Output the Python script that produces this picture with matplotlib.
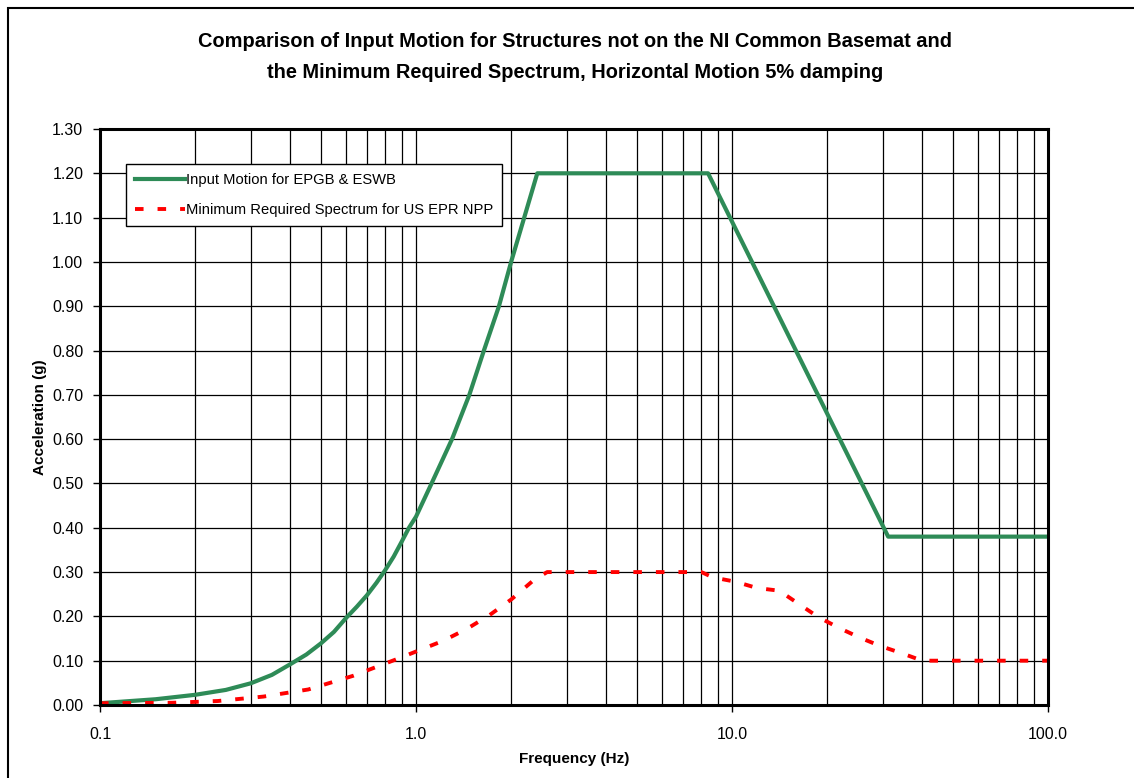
import matplotlib
matplotlib.use("Agg")
import matplotlib.pyplot as plt
from matplotlib.patches import Rectangle
from matplotlib.ticker import FixedLocator, LogLocator, NullFormatter

plt.rcParams['font.family'] = ['Liberation Sans', 'DejaVu Sans']

# Input Motion for EPGB & ESWB
freq_input = [0.1, 0.15, 0.2, 0.25, 0.3, 0.35, 0.4, 0.45, 0.5, 0.55, 0.6, 0.65,
              0.7, 0.75, 0.8, 0.85, 0.9, 0.95, 1.0, 1.12, 1.30, 1.475, 1.64,
              1.83, 2.0, 2.2, 2.42, 8.4, 31.2, 100.0]
acc_input = [0.004, 0.013, 0.023, 0.034, 0.049, 0.068, 0.092, 0.114, 0.139, 0.165,
             0.196, 0.222, 0.248, 0.276, 0.305, 0.335, 0.368, 0.40, 0.425, 0.50,
             0.60, 0.70, 0.80, 0.90, 1.00, 1.10, 1.20, 1.20, 0.38, 0.38]

# Minimum Required Spectrum for US EPR NPP
freq_min = [0.1, 0.169, 0.236, 0.329, 0.456, 0.633, 0.88, 1.22, 1.45, 1.71, 2.0,
            2.35, 2.6, 8.0, 8.7, 10.3, 12.0, 14.1, 16.2, 18.7, 21.8, 25.4, 29.5,
            34.4, 40.0, 100.0]
acc_min = [0.004, 0.005, 0.009, 0.019, 0.035, 0.066, 0.105, 0.145, 0.172, 0.203,
           0.238, 0.281, 0.30, 0.30, 0.288, 0.278, 0.264, 0.258, 0.229, 0.199,
           0.174, 0.152, 0.133, 0.117, 0.10, 0.10]

y_ticks = [i / 10 for i in range(14)]
x_ticks = [0.1, 1.0, 10.0, 100.0]
x_labels = ['0.1', '1.0', '10.0', '100.0']

fig = plt.figure(figsize=(11.34, 7.78), dpi=100)
fig.patches.append(Rectangle((8 / 1134, -0.05), 1.1, 1.05 - 8 / 778,
                             transform=fig.transFigure, fill=False,
                             edgecolor='black', lw=1.5, zorder=0))

ax = fig.add_axes([100 / 1134, 1 - 705 / 778, 948 / 1134, 576 / 778])
ax.set_xscale('log')
ax.set_xlim(0.1, 100)
ax.set_ylim(0, 1.3)

ax.plot(freq_input, acc_input, color='#2E8B57', lw=3,
        label='Input Motion for EPGB & ESWB', zorder=3)
ax.plot(freq_min, acc_min, color='#FF0000', lw=2.8, dashes=(2.2, 3.6),
        label='Minimum Required Spectrum for US EPR NPP', zorder=3)

ax.xaxis.set_major_locator(FixedLocator(x_ticks))
ax.set_xticklabels(x_labels)
ax.xaxis.set_minor_locator(LogLocator(base=10, subs=range(2, 10)))
ax.xaxis.set_minor_formatter(NullFormatter())
ax.set_yticks(y_ticks)
ax.set_yticklabels(['%.2f' % v for v in y_ticks])

ax.grid(True, which='both', axis='x', color='black', lw=0.9)
ax.grid(True, which='major', axis='y', color='black', lw=0.9)
ax.tick_params(axis='both', which='major', direction='out', length=5,
               width=1, labelsize=11.5, colors='black')
ax.tick_params(axis='x', which='major', pad=11)
ax.tick_params(axis='y', which='major', pad=7)
ax.tick_params(axis='x', which='minor', length=0)
for s in ax.spines.values():
    s.set_linewidth(2.2)
    s.set_zorder(4)

ax.set_xlabel('Frequency (Hz)', fontsize=11, fontweight='bold', labelpad=7)
ax.set_ylabel('Acceleration (g)', fontsize=11, fontweight='bold', labelpad=4)

fig.text(575 / 1134, 1 - 57 / 778,
         'Comparison of Input Motion for Structures not on the NI Common Basemat and\n'
         'the Minimum Required Spectrum, Horizontal Motion 5% damping',
         ha='center', va='center', fontsize=14.4, fontweight='bold',
         linespacing=1.75)

leg = ax.legend(loc='upper left', bbox_to_anchor=(26 / 948, 1 - 35 / 576),
                fontsize=10.6, frameon=True, fancybox=False, borderpad=0.6,
                handlelength=3.4, handletextpad=0.1, labelspacing=1.1,
                borderaxespad=0)
leg.get_frame().set_edgecolor('black')
leg.get_frame().set_linewidth(1.0)
leg.get_frame().set_alpha(1)

fig.savefig('out.png', dpi=100)
